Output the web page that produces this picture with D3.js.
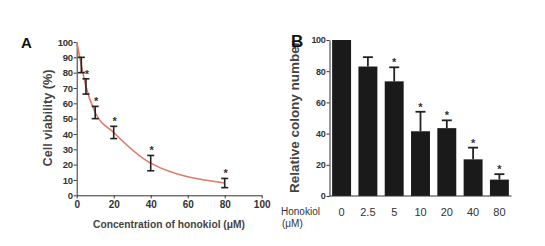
<!DOCTYPE html>
<html>
<head>
<meta charset="utf-8">
<script src="https://cdn.jsdelivr.net/npm/d3@7"></script>
<style>
  body { margin: 0; background: #fff; }
  svg { display: block; font-family: "Liberation Sans", Arial, sans-serif; }
  .axis path, .axis line { stroke: #333; stroke-width: 1; }
  .axis text { fill: #333; }
</style>
</head>
<body>
<div id="chart"></div>
<script>
// Panel A: cell viability vs honokiol concentration
const doseA = [0, 2.5, 5, 10, 20, 40, 80];
const viability = [100, 85, 71, 54, 41, 21, 8];
const viabilityErr = [0, 5, 5, 4, 4, 5, 3];
const starA = [false, false, true, true, true, true, true];
const xTicksA = [0, 20, 40, 60, 80, 100];
const yTicksA = [0, 10, 20, 30, 40, 50, 60, 70, 80, 90, 100];

// Panel B: relative colony number
const doseB = ["0", "2.5", "5", "10", "20", "40", "80"];
const colony = [100, 83, 73.5, 41.5, 43.5, 23.5, 10.5];
const colonyErr = [0, 6, 9, 12.5, 5, 7.5, 3.5];
const starB = [false, false, true, true, true, true, true];
const yTicksB = [0, 20, 40, 60, 80, 100];

const width = 545, height = 246;

const svg = d3.select("#chart").append("svg")
  .attr("width", width)
  .attr("height", height);

// ---------- Panel A ----------
const xA = d3.scaleLinear().domain([0, 100]).range([76.7, 261.7]);
const yA = d3.scaleLinear().domain([0, 100]).range([195.3, 42]);
const idxA = d3.range(doseA.length);

const gA = svg.append("g");

gA.append("g").attr("class", "axis")
  .attr("transform", `translate(0,${yA(0)})`)
  .call(d3.axisBottom(xA).tickValues(xTicksA).tickSize(3).tickSizeOuter(0).tickPadding(3))
  .call(g => g.selectAll("text").attr("font-size", 10).attr("font-weight", "bold"));

gA.append("g").attr("class", "axis")
  .attr("transform", `translate(${xA(0)},0)`)
  .call(d3.axisLeft(yA).tickValues(yTicksA).tickSize(3).tickSizeOuter(0).tickPadding(1))
  .call(g => g.selectAll("text").attr("font-size", 9.5).attr("font-weight", "bold").attr("letter-spacing", -0.3));

const lineA = d3.line()
  .x(i => xA(doseA[i]))
  .y(i => yA(viability[i]))
  .curve(d3.curveMonotoneX);

gA.append("path")
  .datum(idxA)
  .attr("fill", "none")
  .attr("stroke", "#e07a68")
  .attr("stroke-width", 1.6)
  .attr("d", lineA);

// error bars with caps on both ends
const errA = gA.selectAll(".errA")
  .data(idxA.filter(i => viabilityErr[i] > 0))
  .enter().append("g").attr("class", "errA");
errA.append("line")
  .attr("x1", i => xA(doseA[i]))
  .attr("x2", i => xA(doseA[i]))
  .attr("y1", i => yA(viability[i] + viabilityErr[i]))
  .attr("y2", i => yA(viability[i] - viabilityErr[i]))
  .attr("stroke", "#222").attr("stroke-width", 1.6);
[1, -1].forEach(s => {
  errA.append("line")
    .attr("x1", i => xA(doseA[i]) - 3.5)
    .attr("x2", i => xA(doseA[i]) + 3.5)
    .attr("y1", i => yA(viability[i] + s * viabilityErr[i]))
    .attr("y2", i => yA(viability[i] + s * viabilityErr[i]))
    .attr("stroke", "#222").attr("stroke-width", 1.6);
});

gA.selectAll(".starA")
  .data(idxA.filter(i => starA[i]))
  .enter().append("text")
  .attr("x", i => xA(doseA[i]) + 1)
  .attr("y", i => yA(viability[i] + viabilityErr[i]) - 1)
  .attr("text-anchor", "middle")
  .attr("font-size", 11).attr("font-weight", "bold").attr("fill", "#333")
  .text("*");

gA.append("text")
  .attr("transform", `translate(52,118) rotate(-90)`)
  .attr("text-anchor", "middle")
  .attr("font-size", 12).attr("font-weight", "bold").attr("fill", "#444")
  .attr("textLength", 97).attr("lengthAdjust", "spacingAndGlyphs")
  .text("Cell viability (%)");

gA.append("text")
  .attr("x", 169).attr("y", 228)
  .attr("text-anchor", "middle")
  .attr("font-size", 11.5).attr("font-weight", "bold").attr("fill", "#444")
  .attr("textLength", 152).attr("lengthAdjust", "spacingAndGlyphs")
  .text("Concentration of honokiol (\u03bcM)");

gA.append("text")
  .attr("x", 21).attr("y", 48)
  .attr("font-size", 15).attr("font-weight", "bold").attr("fill", "#111")
  .text("A");

// ---------- Panel B ----------
const xB = d3.scaleBand().domain(doseB).range([329.5, 511.5]).paddingInner(0.28).paddingOuter(0.1);
const yB = d3.scaleLinear().domain([0, 100]).range([196, 40]);
const idxB = d3.range(doseB.length);
const cxB = i => xB(doseB[i]) + xB.bandwidth() / 2;

const gB = svg.append("g");

gB.selectAll(".bar").data(idxB).enter().append("rect")
  .attr("class", "bar")
  .attr("x", i => xB(doseB[i]))
  .attr("y", i => yB(colony[i]))
  .attr("width", xB.bandwidth())
  .attr("height", i => yB(0) - yB(colony[i]))
  .attr("fill", "#1a1a1a");

// only the upper half of each error bar shows above the bar
const errB = gB.selectAll(".errB")
  .data(idxB.filter(i => colonyErr[i] > 0))
  .enter().append("g").attr("class", "errB");
errB.append("line")
  .attr("x1", cxB).attr("x2", cxB)
  .attr("y1", i => yB(colony[i] + colonyErr[i]))
  .attr("y2", i => yB(colony[i]))
  .attr("stroke", "#222").attr("stroke-width", 1.8);
errB.append("line")
  .attr("x1", i => cxB(i) - 5).attr("x2", i => cxB(i) + 5)
  .attr("y1", i => yB(colony[i] + colonyErr[i]))
  .attr("y2", i => yB(colony[i] + colonyErr[i]))
  .attr("stroke", "#222").attr("stroke-width", 1.8);

gB.selectAll(".starB")
  .data(idxB.filter(i => starB[i]))
  .enter().append("text")
  .attr("x", cxB)
  .attr("y", i => yB(colony[i] + colonyErr[i]) - 1)
  .attr("text-anchor", "middle")
  .attr("font-size", 11).attr("font-weight", "bold").attr("fill", "#333")
  .text("*");

gB.append("g").attr("class", "axis")
  .attr("transform", `translate(${xB.range()[0]},0)`)
  .call(d3.axisLeft(yB).tickValues(yTicksB).tickSize(3).tickSizeOuter(0).tickPadding(1))
  .call(g => g.selectAll("text").attr("font-size", 9).attr("font-weight", "bold").attr("letter-spacing", -0.3));

gB.append("line")
  .attr("x1", xB.range()[0]).attr("x2", xB.range()[1])
  .attr("y1", yB(0)).attr("y2", yB(0))
  .attr("stroke", "#333").attr("stroke-width", 1);

gB.selectAll(".xlabB").data(idxB).enter().append("text")
  .attr("x", cxB)
  .attr("y", 216)
  .attr("text-anchor", "middle")
  .attr("font-size", 11).attr("fill", "#333")
  .text(i => doseB[i]);

gB.append("text")
  .attr("x", 281).attr("y", 215)
  .attr("font-size", 10).attr("fill", "#333")
  .text("Honokiol");
gB.append("text")
  .attr("x", 282).attr("y", 227)
  .attr("font-size", 10).attr("fill", "#333")
  .text("(\u03bcM)");

gB.append("text")
  .attr("transform", `translate(299,117) rotate(-90)`)
  .attr("text-anchor", "middle")
  .attr("font-size", 12.5).attr("font-weight", "bold").attr("fill", "#444")
  .attr("textLength", 152).attr("lengthAdjust", "spacingAndGlyphs")
  .text("Relative colony number");

gB.append("text")
  .attr("x", 291).attr("y", 47)
  .attr("font-size", 17).attr("font-weight", "bold").attr("fill", "#111")
  .text("B");
</script>
</body>
</html>
